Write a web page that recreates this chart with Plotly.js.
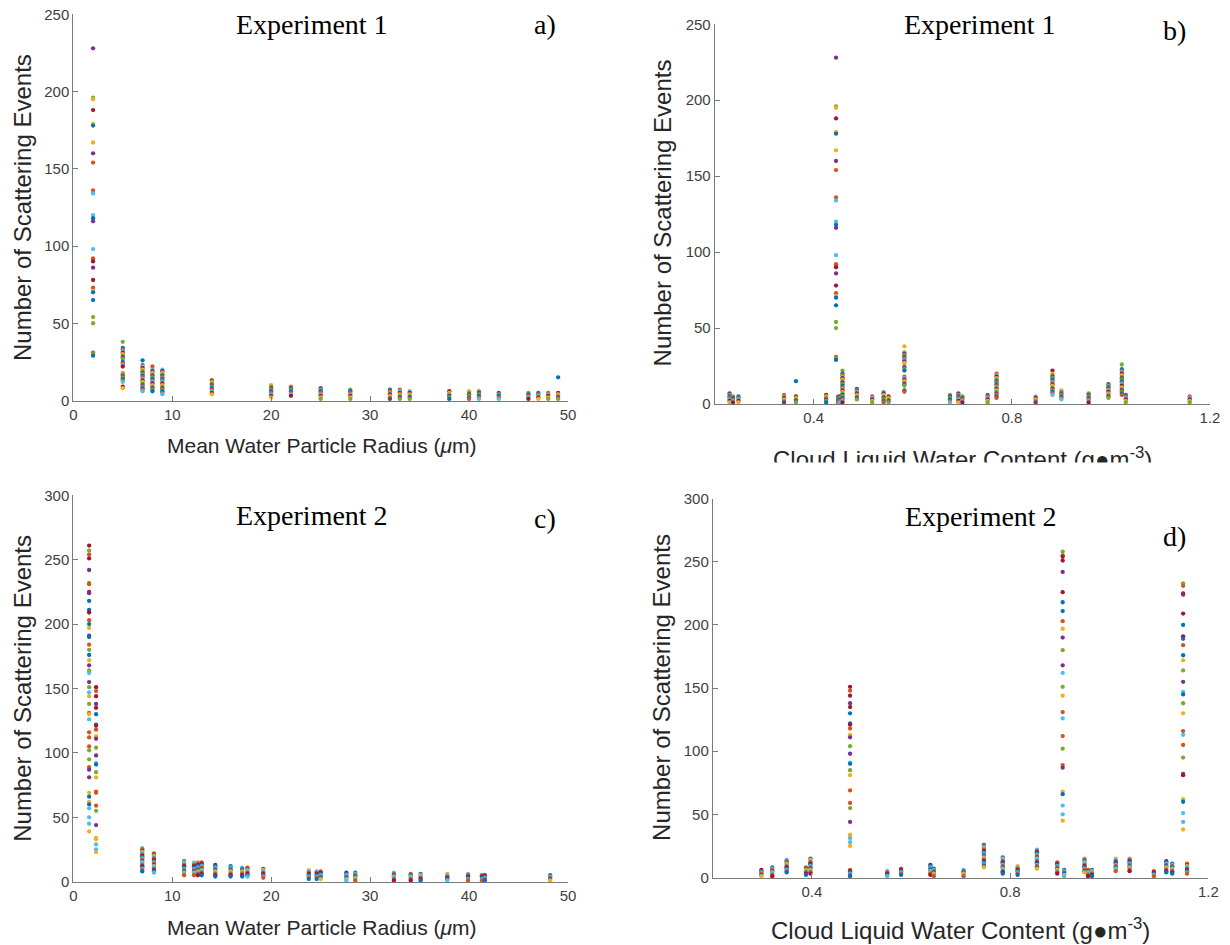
<!DOCTYPE html>
<html><head><meta charset="utf-8">
<script src="https://cdn.plot.ly/plotly-3.0.1.min.js"></script>
<style>html,body{margin:0;padding:0;background:#fff}#chart{width:1230px;height:945px}</style>
</head><body><div id="chart"></div>
<script>
// MATLAB default colour order, keyed by letter
const PALETTE = {B:'#0072BD',O:'#D95319',Y:'#EDB120',P:'#7E2F8E',G:'#77AC30',C:'#4DBEEE',R:'#A2142F'};

// ---------- Panel a: Experiment 1, events vs mean radius (um) ----------
const aX = [2,5,7,8,9,14,20,22,25,28,32,33,34,38,40,41,43,46,47,48,49];
const aY = [
  [228,196,195,188,179,178,167,160,154,136,134,120,118,116,98,92,91,90,86,78,73,71,70,65,54,50,31,30,29],
  [38,34,33,32,31,30,29,28,27,25,24,23,22,18,17,16,15,14,13,12,9,8],
  [26,23,22,21,20,19,18,17,16,15,14,13,12,11,10,9,8,7,6],
  [22,20,19,18,17,16,15,14,13,12,11,10,9,8,7,6],
  [20,19,18,17,16,15,14,13,12,11,10,9,8,7,6,5,4],
  [13,12,11,10,9,8,7,6,5,4],
  [10,9,8,7,6,5,4,3,2],
  [9,8,7,6,5,4,3],
  [8,7,6,5,4,3,2,1],
  [7,6,5,4,3,2,1],
  [7,6,5,4,3,2,1],
  [7,6,5,4,3,2,1],
  [6,5,4,3,2,1],
  [6,5,4,3,2,1],
  [6,5,4,3,2,1],
  [6,5,4,3,2,1],
  [5,4,3,2,1],
  [5,4,3,2,1],
  [5,4,3,2,1],
  [5,4,3,2,1],
  [15,5,4,3,2,1]
];
const aColors = {0:'PGYRYBYPOOCCBPCOORPROYBBGGOGB', 20:'B'};

// ---------- Panel b: Experiment 1, events vs LWC (g m-3) ----------
const bX = [0.230,0.237,0.248,0.340,0.364,0.425,0.445,0.449,0.452,0.458,0.487,0.518,0.541,0.551,0.583,0.675,0.692,0.700,0.751,0.769,0.848,0.882,0.900,0.955,0.995,1.022,1.030,1.159];
const bY = [
  [7,6,5,4,3,2,1],
  [5,4,3,2,1],
  [5,4,3,2,1],
  [6,5,4,3,2,1],
  [15,5,4,3,2,1],
  [6,5,4,3,2,1],
  [228,196,195,188,179,178,167,160,154,136,134,120,118,116,98,92,91,90,86,78,73,71,70,65,54,50,31,30,29],
  [5,4,3,2,1],
  [5,4,3,2,1],
  [22,20,19,18,17,16,15,14,13,12,11,10,9,8,7,6,5,4,3,2,1],
  [10,9,8,7,6,5,4,3],
  [5,4,3,2,1],
  [8,7,6,5,4,3,2,1],
  [5,4,3,2,1],
  [38,34,33,32,31,30,29,28,27,25,24,23,22,18,17,16,15,14,13,12,9,8],
  [6,5,4,3,2,1],
  [7,6,5,4,3,2,1],
  [5,4,3,2,1],
  [6,5,4,3,2,1],
  [20,19,18,17,16,15,14,13,12,11,10,9,8,7,6,5,4],
  [5,4,3,2,1],
  [22,20,19,18,17,16,15,14,13,12,11,10,9,8,7,6],
  [9,8,7,6,5,4,3],
  [7,6,5,4,3,2,1],
  [13,12,11,10,9,8,7,6,5,4],
  [26,23,22,21,20,19,18,17,16,15,14,13,12,11,10,9,8,7,6],
  [6,5,4,3,2,1],
  [5,4,3,2,1]
];
const bColors = {4:'B', 6:'PGYRYBYPOOCCBPCOORPROYBBGGOGB'};

// ---------- Panel c: Experiment 2, events vs mean radius (um) ----------
const cX = [1.6,2.3,6.97,8.15,11.2,12.2,12.6,12.97,14.35,15.9,17.07,17.6,19.2,23.8,24.6,25.0,27.6,28.5,32.4,34.1,35.1,37.8,39.9,41.3,41.6,48.2];
const cY = [
  [261,257,254,251,242,232,231,225,224,218,211,209,203,200,197,191,190,184,180,176,172,168,164,162,155,151,147,144,138,131,130,126,116,112,105,102,95,89,87,81,69,66,62,60,57,50,45,39],
  [151,148,144,138,135,130,122,121,118,113,111,104,98,92,91,85,81,70,69,59,55,44,34,33,29,25,23],
  [26,25,24,23,22,21,20,19,18,17,16,15,14,13,12,11,10,9,8],
  [22,21,20,19,18,17,16,15,14,13,12,11,10,9,8,7],
  [16,15,14,13,12,11,10,9,8,7,6,5],
  [15,14,13,12,11,10,9,8,7,6,5],
  [15,14,13,12,11,10,9,8,7,6,5],
  [15,14,13,12,11,10,9,8,7,6,5],
  [13,12,11,10,9,8,7,6,5,4],
  [12,11,10,9,8,7,6,5,4],
  [11,10,9,8,7,6,5,4],
  [11,10,9,8,7,6,5,4],
  [10,9,8,7,6,5,4,3],
  [9,8,7,6,5,4,3,2],
  [8,7,6,5,4,3,2],
  [8,7,6,5,4,3,2],
  [7,6,5,4,3,2,1],
  [7,6,5,4,3,2,1],
  [7,6,5,4,3,2,1],
  [6,5,4,3,2,1],
  [6,5,4,3,2,1],
  [6,5,4,3,2,1],
  [6,5,4,3,2,1],
  [5,4,3,2,1],
  [5,4,3,2,1],
  [5,4,3,2,1]
];
const cColors = {0:'RGORPGORPBBROBYPBOGBYPGCPGCYGOYCOOOGGOPPYBYBCCCY', 1:'RORPRBBROYPGPCBGYOOOGPYYCCY'};

// ---------- Panel d: Experiment 2, events vs LWC (g m-3) ----------
const dX = [0.298,0.320,0.349,0.388,0.397,0.477,0.552,0.580,0.639,0.646,0.706,0.747,0.785,0.815,0.854,0.895,0.906,0.909,0.950,0.957,0.965,1.013,1.041,1.090,1.115,1.127,1.149,1.157];
const dY = [
  [6,5,4,3,2,1],
  [8,7,6,5,4,3,2,1],
  [14,13,12,11,10,9,8,7,6,5,4],
  [8,7,6,5,4,3,2],
  [15,14,13,12,11,10,9,8,7,6,5,4,3],
  [151,148,144,138,135,130,122,121,118,113,111,104,98,91,90,85,81,69,59,55,44,34,33,31,28,25,6,5,4,3,2,1],
  [5,4,3,2,1],
  [7,6,5,4,3,2],
  [10,9,8,7,6,5,4,3,2],
  [7,6,5,4,3,2,1],
  [6,5,4,3,2,1],
  [26,25,24,23,22,21,20,19,18,17,16,15,14,13,12,11,10,9,8],
  [16,15,14,13,12,11,10,9,8,7,6,5,4,3],
  [9,8,7,6,5,4,3,2],
  [22,21,20,19,18,17,16,15,14,13,12,11,10,9,8,7],
  [12,11,10,9,8,7,6,5,4,3],
  [258,255,254,251,242,226,218,211,203,197,190,180,168,162,151,144,131,126,112,102,89,87,68,66,57,50,45],
  [6,5,4,3,2,1],
  [15,14,13,12,11,10,9,8,7,6,5,4],
  [6,5,4,3,2,1],
  [6,5,4,3,2,1],
  [15,14,13,12,11,10,9,8,7,6,5],
  [15,14,13,12,11,10,9,8,7,6,5],
  [5,4,3,2,1],
  [13,12,11,10,9,8,7,6,5,4],
  [11,10,9,8,7,6,5,4,3],
  [233,231,225,224,209,200,191,189,184,176,172,164,155,147,145,138,130,116,113,105,95,82,81,62,60,51,44,38],
  [11,10,9,8,7,6,5,4,3]
];
const dColors = {5:'RORPRBBROYPGPCBGYOOGPYYCCY', 16:'GORRPRBBOYPGPCGYOCOGOPYBCCY', 26:'GORPRBRBOBYGPCBGYOCOGPRYBCCY'};

// cycle used for the many small columns
const cycle1 = 'PGBOCRYG';
const cycle2 = 'RBCOBYCO';

function build(xs, ys, colorMap, cyc, xa, ya) {
  const X = [], Y = [], C = [];
  xs.forEach((xv, i) => {
    const s = colorMap[i] || '';
    ys[i].forEach((yv, j) => {
      X.push(xv); Y.push(yv);
      const k = j < s.length ? s[j] : cyc[(j + i) % cyc.length];
      C.push(PALETTE[k]);
    });
  });
  return {type:'scatter', mode:'markers', x:X, y:Y, xaxis:xa, yaxis:ya, cliponaxis:false,
          hoverinfo:'x+y', marker:{size:4.3, color:C, line:{width:0}}};
}

const data = [
  build(aX, aY, aColors, cycle1, 'x', 'y'),
  build(bX, bY, bColors, cycle1, 'x2', 'y2'),
  build(cX, cY, cColors, cycle2, 'x3', 'y3'),
  build(dX, dY, dColors, cycle2, 'x4', 'y4')
];

const AX_COL = '#7a7a7a';
const TICKF = {family:'Liberation Sans, Arial, sans-serif', size:15, color:'#404040'};
function ax(extra) {
  return Object.assign({showline:true, linecolor:AX_COL, linewidth:1, ticks:'inside', ticklen:5,
    tickcolor:AX_COL, tickwidth:1, showgrid:false, zeroline:false, tickfont:TICKF, fixedrange:true}, extra);
}

const W = 1230, H = 945;
const px = v => v / W, py = v => 1 - v / H;
const TITLEF = {family:'Liberation Serif, Times New Roman, serif', size:28, color:'#000'};
const LABF_Y = {family:'Liberation Sans, Arial, sans-serif', size:24, color:'#262626'};
const LABF_XL = {family:'Liberation Sans, Arial, sans-serif', size:21, color:'#262626'};
const LABF_XR = {family:'Liberation Sans, Arial, sans-serif', size:24, color:'#262626'};
function note(text, x, y, font, angle) {
  return {text:text, xref:'paper', yref:'paper', x:px(x), y:py(y), xanchor:'center', yanchor:'middle',
          showarrow:false, font:font, textangle:angle || 0};
}
const ylab = 'Number of Scattering Events';
const xlabR = 'Mean Water Particle Radius (<i>μ</i>m)';
const xlabL = 'Cloud Liquid Water Content (g●m<sup>-3</sup>)';

const layout = {
  width:W, height:H, margin:{l:0, r:0, t:0, b:0}, paper_bgcolor:'#fff', plot_bgcolor:'rgba(0,0,0,0)',
  showlegend:false,
  xaxis: ax({domain:[px(73.3), px(568)], anchor:'y', range:[0,50], dtick:10, tick0:0}),
  yaxis: ax({domain:[py(400.5), py(14.3)], anchor:'x', range:[0,250], dtick:50, tick0:0}),
  xaxis2: ax({domain:[px(714.7), px(1210)], anchor:'y2', range:[0.2,1.2], dtick:0.4, tick0:0}),
  yaxis2: ax({domain:[py(404), py(24.3)], anchor:'x2', range:[0,250], dtick:50, tick0:0}),
  xaxis3: ax({domain:[px(73.3), px(568)], anchor:'y3', range:[0,50], dtick:10, tick0:0}),
  yaxis3: ax({domain:[py(881.7), py(495.3)], anchor:'x3', range:[0,300], dtick:50, tick0:0}),
  xaxis4: ax({domain:[px(712.8), px(1208.4)], anchor:'y4', range:[0.2,1.2], dtick:0.4, tick0:0}),
  yaxis4: ax({domain:[py(877.5), py(498.7)], anchor:'x4', range:[0,300], dtick:50, tick0:0}),
  annotations: [
    note('Experiment 1', 312, 24, TITLEF), note('a)', 545, 24, TITLEF),
    note(ylab, 22.5, 207.5, LABF_Y, -90), note(xlabR, 322, 445, LABF_XL),
    note('Experiment 1', 980, 24, TITLEF), note('b)', 1174, 30, TITLEF),
    note(ylab, 663.4, 213, LABF_Y, -90), note(xlabL, 962.5, 458, LABF_XR),
    // the reference crops the lower part of panel b's x-axis title
    {text:'&nbsp;', xref:'paper', yref:'paper', x:px(962.5), y:py(468), xanchor:'center', yanchor:'middle',
     showarrow:false, width:440, height:11, bgcolor:'#fff', borderpad:0, font:{size:8, color:'#fff'}},
    note('Experiment 2', 312, 515, TITLEF), note('c)', 545, 518, TITLEF),
    note(ylab, 22.5, 688.3, LABF_Y, -90), note(xlabR, 322, 927, LABF_XL),
    note('Experiment 2', 980.7, 516.7, TITLEF), note('d)', 1174, 536.7, TITLEF),
    note(ylab, 661.4, 687.5, LABF_Y, -90), note(xlabL, 960.8, 929, LABF_XR)
  ]
};

Plotly.newPlot('chart', data, layout, {displayModeBar:false, staticPlot:true});
</script></body></html>
